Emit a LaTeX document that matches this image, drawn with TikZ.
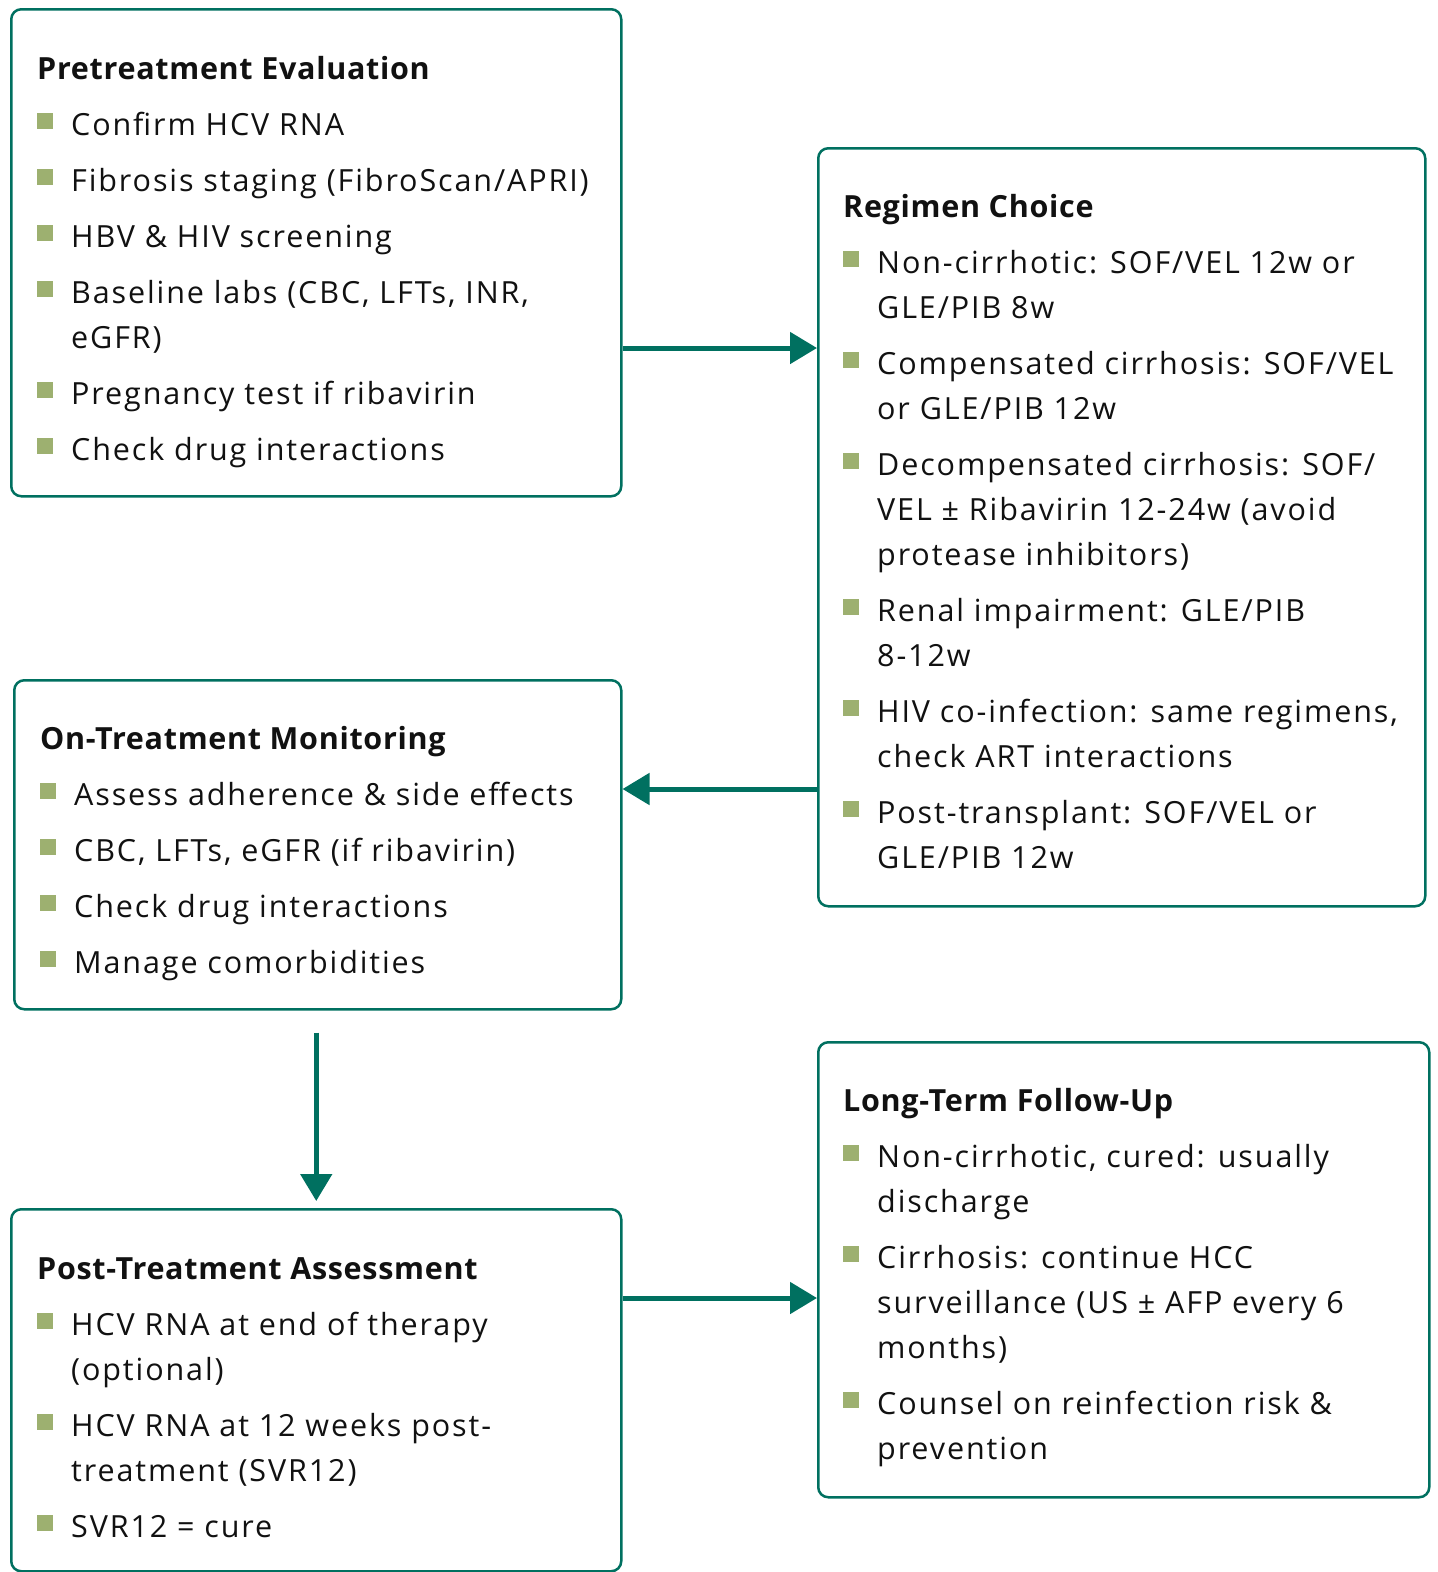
\documentclass[tikz,border=0pt]{standalone}
\usepackage{fontspec}
\setmainfont{Open Sans}[LetterSpace=6.2,BoldFeatures={LetterSpace=2.3}]
\usetikzlibrary{arrows.meta,calc}
\definecolor{tealc}{RGB}{0,112,96}
\definecolor{bulc}{RGB}{157,176,112}
\definecolor{txtc}{RGB}{17,17,17}
\newcommand{\bsq}{\makebox[34pt][l]{\textcolor{bulc}{\rule[6pt]{16pt}{16pt}}}}
\newcommand{\ttl}[1]{\noindent{\bfseries #1}}
\newcommand{\itm}[1]{\par\vspace{11pt}\hangindent=34pt\hangafter=1\noindent\bsq #1}
\newcommand{\boxtext}[1]{\parbox[t]{800pt}{\fontsize{30.5}{45}\selectfont #1}}
\begin{document}
\begin{tikzpicture}[x=1pt,y=-1pt,
  card/.style={draw=tealc, line width=2.5pt, rounded corners=10pt, fill=white, anchor=north west, inner sep=0pt},
  txt/.style={anchor=base west, inner sep=0pt, text=txtc},
  arr/.style={draw=tealc, line width=5pt, -{Triangle[length=27pt,width=31pt]}}]
\useasboundingbox (0,0) rectangle (1438,1572);
% boxes
\node[card, minimum width=610pt, minimum height=487pt] (pre) at (10,8) {};
\node[card, minimum width=607pt, minimum height=758pt] (reg) at (817,147) {};
\node[card, minimum width=607pt, minimum height=329pt] (mon) at (13,679) {};
\node[card, minimum width=610pt, minimum height=362pt] (post) at (10,1208) {};
\node[card, minimum width=611pt, minimum height=455pt] (lt) at (817,1041) {};
% texts
\node[txt] (t1) at (37,79) {\boxtext{\ttl{Pretreatment Evaluation}
\itm{Confirm HCV RNA}
\itm{Fibrosis staging (FibroScan/APRI)}
\itm{HBV \& HIV screening}
\itm{Baseline labs (CBC, LFTs, INR,\newline eGFR)}
\itm{Pregnancy test if ribavirin}
\itm{Check drug interactions}}};
\node[txt] (t2) at (843,217) {\boxtext{\ttl{Regimen Choice}
\itm{Non-cirrhotic: SOF/VEL 12w or\newline GLE/PIB 8w}
\itm{Compensated cirrhosis: SOF/VEL\newline or GLE/PIB 12w}
\itm{Decompensated cirrhosis: SOF/\newline VEL ± Ribavirin 12-24w (avoid\newline protease inhibitors)}
\itm{Renal impairment: GLE/PIB\newline 8-12w}
\itm{HIV co-infection: same regimens,\newline check ART interactions}
\itm{Post-transplant: SOF/VEL or\newline GLE/PIB 12w}}};
\node[txt] (t3) at (40,749) {\boxtext{\ttl{On-Treatment Monitoring}
\itm{Assess adherence \& side effects}
\itm{CBC, LFTs, eGFR (if ribavirin)}
\itm{Check drug interactions}
\itm{Manage comorbidities}}};
\node[txt] (t4) at (37,1279) {\boxtext{\ttl{Post-Treatment Assessment}
\itm{HCV RNA at end of therapy\newline (optional)}
\itm{HCV RNA at 12 weeks post-\newline treatment (SVR12)}
\itm{SVR12 = cure}}};
\node[txt] (t5) at (843,1111) {\boxtext{\ttl{Long-Term Follow-Up}
\itm{Non-cirrhotic, cured: usually\newline discharge}
\itm{Cirrhosis: continue HCC\newline surveillance (US ± AFP every 6\newline months)}
\itm{Counsel on reinfection risk \&\newline prevention}}};
% arrows
\coordinate (y1) at (0,348);
\coordinate (y2) at (0,789);
\coordinate (y4) at (0,1298);
\draw[arr] (pre.east |- y1) -- (reg.west |- y1);
\draw[arr] (reg.west |- y2) -- (mon.east |- y2);
\draw[arr, shorten <=22pt, shorten >=7pt] (post.north |- mon.south) -- (post.north);
\draw[arr] (post.east |- y4) -- (lt.west |- y4);
\end{tikzpicture}
\end{document}
